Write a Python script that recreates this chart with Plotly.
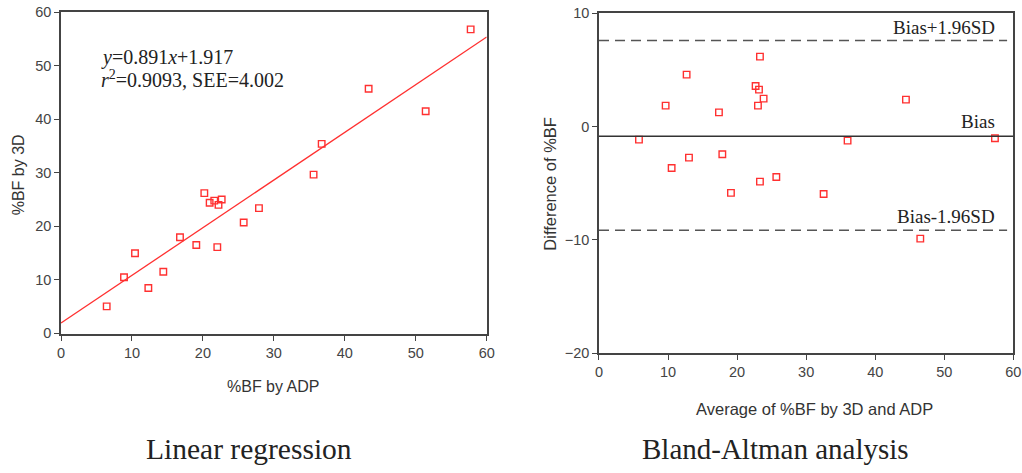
import plotly.graph_objects as go

# ---- Linear regression data ----
adp_bf = [6.44, 8.88, 10.43, 12.31, 14.42, 16.77, 19.07, 20.2, 20.95, 21.6,
          22.2, 22.65, 22.03, 25.75, 27.9, 35.6, 36.74, 43.36, 51.4, 57.74]
bf_3d = [5.04, 10.47, 14.95, 8.47, 11.5, 17.94, 16.5, 26.2, 24.4, 24.8,
         24.0, 25.0, 16.1, 20.7, 23.4, 29.65, 35.4, 45.7, 41.5, 56.8]
slope = 0.891
intercept = 1.917
eq_line1 = "<i>y</i>=0.891<i>x</i>+1.917"
eq_line2 = "<i>r</i><sup>2</sup>=0.9093, SEE=4.002"

# ---- Bland-Altman data ----
ba_mean = [23.31, 12.69, 22.68, 23.17, 23.84, 9.65, 23.02, 17.37, 44.45, 5.79,
           36.0, 57.34, 17.86, 13.03, 10.52, 25.68, 23.31, 19.11, 32.53, 46.53]
ba_diff = [6.18, 4.59, 3.59, 3.26, 2.47, 1.85, 1.85, 1.26, 2.38, -1.15,
           -1.24, -1.03, -2.44, -2.74, -3.65, -4.44, -4.85, -5.85, -5.94, -9.88]
bias = -0.85
upper_loa = 7.59
lower_loa = -9.15

x_ticks = [0, 10, 20, 30, 40, 50, 60]
y1_ticks = [0, 10, 20, 30, 40, 50, 60]
y2_ticks = [-20, -10, 0, 10]

RED = "#ff3030"
AX = "#444444"
SANS = "Liberation Sans, Arial, sans-serif"
SERIF = "Liberation Serif, Times New Roman, serif"

fig = go.Figure()

fig.add_trace(go.Scatter(
    x=adp_bf, y=bf_3d, mode="markers", xaxis="x", yaxis="y",
    marker=dict(symbol="square-open", size=6.5, color=RED, line=dict(width=1.4, color=RED)),
    showlegend=False))

x_fit = [x_ticks[0], x_ticks[-1]]
y_fit = [slope * v + intercept for v in x_fit]
fig.add_trace(go.Scatter(
    x=x_fit, y=y_fit, mode="lines", xaxis="x", yaxis="y",
    line=dict(color=RED, width=1.3), showlegend=False))

fig.add_trace(go.Scatter(
    x=ba_mean, y=ba_diff, mode="markers", xaxis="x2", yaxis="y2",
    marker=dict(symbol="square-open", size=6.5, color=RED, line=dict(width=1.4, color=RED)),
    showlegend=False))

axis_common = dict(
    showline=True, mirror=True, linecolor=AX, linewidth=1.5,
    showgrid=False, zeroline=False, ticks="outside", ticklen=5,
    tickcolor=AX, tickwidth=1.2, automargin=False, ticklabeloverflow="allow",
    tickfont=dict(family=SANS, size=14.5, color="#444"),
)

fig.update_layout(
    width=1022, height=473,
    margin=dict(l=0, r=0, t=0, b=0),
    paper_bgcolor="white", plot_bgcolor="white",
    xaxis=dict(domain=[0.05969, 0.47622], range=[0, 60], tickvals=x_ticks,
               anchor="y", **axis_common),
    yaxis=dict(domain=[0.2939, 0.974], range=[-0.13, 60], tickvals=y1_ticks,
               anchor="x", **axis_common),
    xaxis2=dict(domain=[0.5861, 0.9915], range=[0, 60], tickvals=x_ticks,
                anchor="y2", **axis_common),
    yaxis2=dict(domain=[0.2531, 0.9719], range=[-20, 10], tickvals=y2_ticks,
                anchor="x2", **axis_common),
)

# Bland-Altman reference lines
fig.add_shape(type="line", xref="x2 domain", yref="y2", x0=0, x1=0.985,
              y0=upper_loa, y1=upper_loa, line=dict(color="#555", width=1.5, dash="10px,6px"))
fig.add_shape(type="line", xref="x2 domain", yref="y2", x0=0, x1=0.985,
              y0=lower_loa, y1=lower_loa, line=dict(color="#555", width=1.5, dash="10px,6px"))
fig.add_shape(type="line", xref="x2 domain", yref="y2", x0=0, x1=1,
              y0=bias, y1=bias, line=dict(color="#333", width=1.5))

annots = []
# line labels
for txt, yv, ys in [("Bias+1.96SD", upper_loa, 13), ("Bias", bias, 15), ("Bias-1.96SD", lower_loa, 14)]:
    annots.append(dict(text=txt, xref="x2 domain", yref="y2", x=0.96, y=yv, yshift=ys,
                       xanchor="right", yanchor="middle", showarrow=False,
                       font=dict(family=SERIF, size=19, color="#222")))
# equation
annots.append(dict(text=eq_line1, xref="x", yref="y", x=5.4, y=51.6, xanchor="left",
                   yanchor="middle", showarrow=False, font=dict(family=SERIF, size=20, color="#222")))
annots.append(dict(text=eq_line2, xref="x", yref="y", x=5.4, y=47.5, xanchor="left",
                   yanchor="middle", showarrow=False, font=dict(family=SERIF, size=20, color="#222")))
# axis titles
annots.append(dict(text="%BF by ADP", xref="paper", yref="paper", x=273 / 1022, y=1 - 386 / 473,
                   xanchor="center", yanchor="middle", showarrow=False,
                   font=dict(family=SANS, size=16, color="#333")))
annots.append(dict(text="Average of %BF by 3D and ADP", xref="paper", yref="paper", x=814.7 / 1022,
                   y=1 - 409 / 473, xanchor="center", yanchor="middle", showarrow=False,
                   font=dict(family=SANS, size=16.5, color="#333")))
annots.append(dict(text="%BF by 3D", xref="paper", yref="paper", x=18.3 / 1022, y=1 - 175 / 473,
                   xanchor="center", yanchor="middle", textangle=-90, showarrow=False,
                   font=dict(family=SANS, size=16, color="#333")))
annots.append(dict(text="Difference of %BF", xref="paper", yref="paper", x=550 / 1022, y=1 - 183.7 / 473,
                   xanchor="center", yanchor="middle", textangle=-90, showarrow=False,
                   font=dict(family=SANS, size=16.5, color="#333")))
# panel titles
annots.append(dict(text="Linear regression", xref="paper", yref="paper", x=249 / 1022, y=1 - 449 / 473,
                   xanchor="center", yanchor="middle", showarrow=False,
                   font=dict(family=SERIF, size=29.5, color="#222")))
annots.append(dict(text="Bland-Altman analysis", xref="paper", yref="paper", x=775 / 1022, y=1 - 449 / 473,
                   xanchor="center", yanchor="middle", showarrow=False,
                   font=dict(family=SERIF, size=29, color="#222")))

fig.update_layout(annotations=annots)
fig.write_html("out.html", config={"displayModeBar": False},
               post_script="document.body.style.margin='0';document.body.style.overflow='hidden';")
